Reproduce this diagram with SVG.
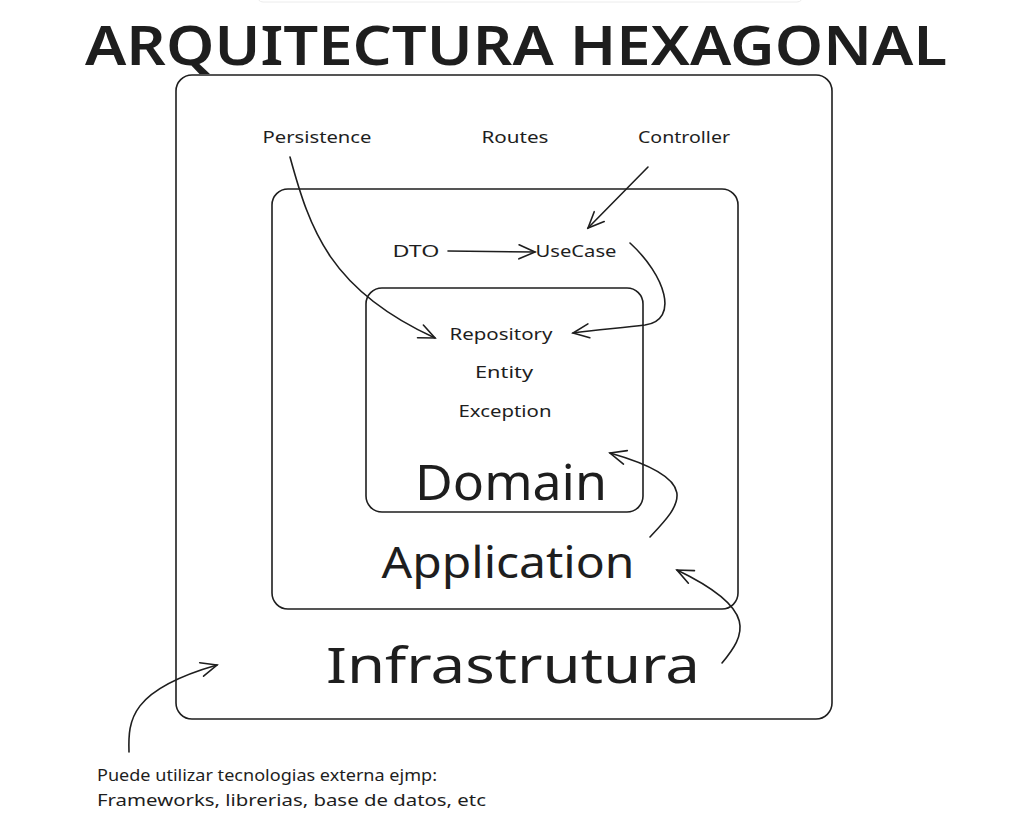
<svg xmlns="http://www.w3.org/2000/svg" width="1032" height="823" viewBox="0 0 1032 823">
<style>
.box{fill:none;stroke:#1e1e1e;stroke-width:1.6}
.t{font-family:"Noto Sans","DejaVu Sans",sans-serif;fill:#1e1e1e}
.s{font-size:17px}
.c{stroke:#1e1e1e;stroke-width:1.6;fill:none;stroke-linecap:round}
</style>
<defs>
<marker id="ah" viewBox="0 0 20 20" refX="18" refY="10" markerWidth="20" markerHeight="20" markerUnits="userSpaceOnUse" orient="auto">
<path d="M2 3 L18 10 L2 17" fill="none" stroke="#1e1e1e" stroke-width="1.6" stroke-linecap="round"/>
</marker>
</defs>
<rect width="1032" height="823" fill="#ffffff"/>
<rect x="257" y="-20" width="546" height="22" rx="6" fill="#fff" stroke="#ececec"/>
<g id="title"><text class="t" x="516" y="65" text-anchor="middle" font-size="54" font-weight="600" textLength="862" lengthAdjust="spacingAndGlyphs">ARQUITECTURA HEXAGONAL</text></g>
<g id="infra">
<rect class="box" x="176" y="75" width="656" height="644" rx="16"/>
<text class="t" x="513" y="683" text-anchor="middle" font-size="50" textLength="374" lengthAdjust="spacingAndGlyphs">Infrastrutura</text>
</g>
<g id="application">
<rect class="box" x="272" y="189" width="466" height="420" rx="16"/>
<text class="t" x="508" y="578" text-anchor="middle" font-size="44" textLength="253" lengthAdjust="spacingAndGlyphs">Application</text>
</g>
<g id="domain">
<rect class="box" x="366" y="288" width="277" height="224" rx="16"/>
<text class="t" x="511" y="500" text-anchor="middle" font-size="50" textLength="192" lengthAdjust="spacingAndGlyphs">Domain</text>
</g>
<g id="persistence"><text class="t s" x="317" y="143" text-anchor="middle" textLength="109" lengthAdjust="spacingAndGlyphs">Persistence</text></g>
<g id="routes"><text class="t s" x="515" y="143" text-anchor="middle" textLength="67" lengthAdjust="spacingAndGlyphs">Routes</text></g>
<g id="controller"><text class="t s" x="684" y="143" text-anchor="middle" textLength="92" lengthAdjust="spacingAndGlyphs">Controller</text></g>
<g id="dto"><text class="t s" x="416" y="257" text-anchor="middle" textLength="47" lengthAdjust="spacingAndGlyphs">DTO</text></g>
<g id="usecase"><text class="t s" x="576" y="257" text-anchor="middle" textLength="81" lengthAdjust="spacingAndGlyphs">UseCase</text></g>
<g id="repository"><text class="t s" x="501" y="340" text-anchor="middle" textLength="103" lengthAdjust="spacingAndGlyphs">Repository</text></g>
<g id="entity"><text class="t s" x="504" y="378" text-anchor="middle" textLength="58" lengthAdjust="spacingAndGlyphs">Entity</text></g>
<g id="exception"><text class="t s" x="505" y="417" text-anchor="middle" textLength="93" lengthAdjust="spacingAndGlyphs">Exception</text></g>
<g id="note">
<text class="t s" x="97" y="781" textLength="340" lengthAdjust="spacingAndGlyphs">Puede utilizar tecnologias externa ejmp:</text>
<text class="t s" x="97" y="806" textLength="389" lengthAdjust="spacingAndGlyphs">Frameworks, librerias, base de datos, etc</text>
</g>
<g id="connectors">
<path class="c" marker-end="url(#ah)" d="M290 157 C 310 230, 330 290, 435 338"/>
<path class="c" marker-end="url(#ah)" d="M648 167 L588 228"/>
<path class="c" marker-end="url(#ah)" d="M448 251 L535 252"/>
<path class="c" marker-end="url(#ah)" d="M630 243 C 665 275, 680 320, 645 325 C 620 328, 595 330, 573 333"/>
<path class="c" marker-end="url(#ah)" d="M650 537 C 680 505, 705 480, 610 453"/>
<path class="c" marker-end="url(#ah)" d="M722 663 C 745 635, 760 610, 677 570"/>
<path class="c" marker-end="url(#ah)" d="M129 752 C 128 720, 130 690, 217 665"/>
</g>
</svg>
